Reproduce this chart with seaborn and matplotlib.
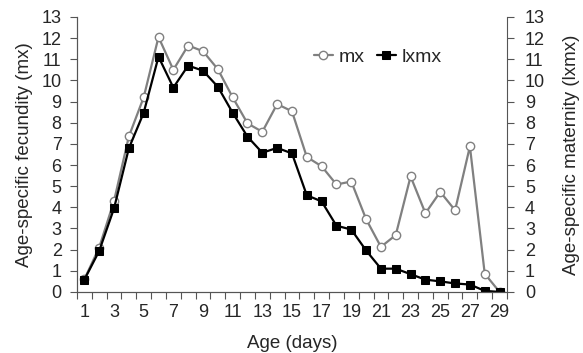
import pandas as pd
import seaborn as sns
import matplotlib.pyplot as plt

days = list(range(1, 30))
mx = [0.6, 2.1, 4.3, 7.35, 9.2, 12.05, 10.5, 11.65, 11.38, 10.53, 9.2, 7.97, 7.57, 8.88, 8.54,
      6.38, 5.94, 5.08, 5.22, 3.44, 2.13, 2.69, 5.46, 3.72, 4.73, 3.86, 6.88, 0.86, 0.0]
lxmx = [0.58, 1.94, 3.95, 6.79, 8.47, 11.12, 9.66, 10.7, 10.46, 9.7, 8.47, 7.34, 6.58, 6.81, 6.55,
        4.57, 4.28, 3.13, 2.95, 1.96, 1.1, 1.1, 0.84, 0.58, 0.5, 0.4, 0.35, 0.05, 0.0]
xticklabels = [str(d) for d in range(1, 30, 2)]

df = pd.DataFrame({"day": days, "mx": mx, "lxmx": lxmx})

sns.set_style("ticks")
plt.rcParams['font.family'] = ['Liberation Sans', 'DejaVu Sans']
plt.rcParams['font.size'] = 13

fig = plt.figure(figsize=(5.83, 3.53), dpi=100)
ax = fig.add_axes([0.132, 0.173, 0.7376, 0.779])

sns.lineplot(data=df, x="day", y="mx", ax=ax, color="#808080", lw=1.6,
             marker="o", markersize=6, markerfacecolor="white",
             markeredgecolor="#808080", markeredgewidth=1.0, label="mx")
sns.lineplot(data=df, x="day", y="lxmx", ax=ax, color="black", lw=1.6,
             marker="s", markersize=6, markerfacecolor="black",
             markeredgecolor="black", label="lxmx")

ax.set_xlim(0.5, 29.5)
ax.set_ylim(0, 13)
ax.set_yticks(range(0, 14))
ax.set_xticks(range(1, 30, 2))
ax.set_xticklabels(xticklabels)
ax.set_xticks([d + 0.5 for d in range(0, 30)], minor=True)
ax.tick_params(axis="x", which="major", length=0, pad=9, labelsize=13)
ax.tick_params(axis="x", which="minor", length=5, direction="out", width=0.8, color="#555555")
ax.tick_params(axis="y", length=5, width=0.8, color="#555555", pad=6, labelsize=13)
ax.set_xlabel("Age (days)", fontsize=13.5, labelpad=10)
ax.set_ylabel("Age-specific fecundity (mx)", fontsize=13.5, labelpad=6)

ax2 = ax.twinx()
ax2.set_ylim(0, 13)
ax2.set_yticks(range(0, 14))
ax2.tick_params(axis="y", length=5, width=0.8, color="#555555", pad=8, labelsize=13)
ax2.set_ylabel("Age-specific maternity (lxmx)", fontsize=13.5, labelpad=13)

for a in (ax, ax2):
    a.spines["top"].set_visible(False)
    for s in ("left", "right", "bottom"):
        a.spines[s].set_color("#555555")
        a.spines[s].set_linewidth(0.8)
ax.spines["right"].set_visible(False)

leg = ax.legend(loc="upper left", bbox_to_anchor=(0.51, 0.95), ncol=2, frameon=False,
                handlelength=1.0, handletextpad=0.3, columnspacing=0.6, fontsize=14)

fig.savefig("out.png", dpi=100)
